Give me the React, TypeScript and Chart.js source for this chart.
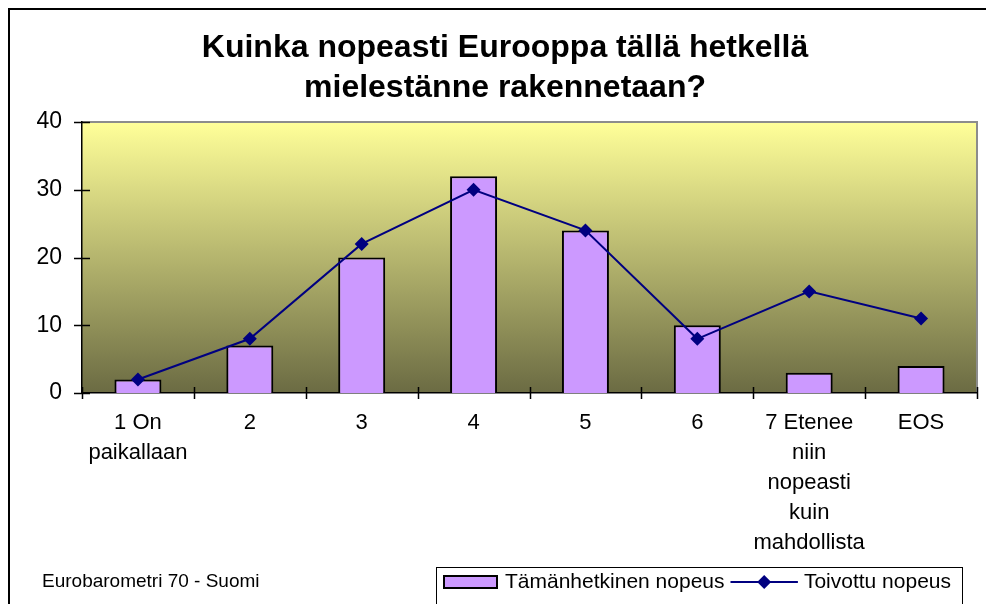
import React, { useEffect, useRef } from "react";
import { Chart, registerables } from "chart.js";
Chart.register(...registerables);

const titleLines = ["Kuinka nopeasti Eurooppa tällä hetkellä", "mielestänne rakennetaan?"];
const categories: (string | string[])[] = [
  ["1 On", "paikallaan"],
  "2",
  "3",
  "4",
  "5",
  "6",
  ["7 Etenee", "niin", "nopeasti", "kuin", "mahdollista"],
  "EOS",
];
const currentSpeed = [2, 7, 20, 32, 24, 10, 3, 4];
const desiredSpeed = [2, 8, 22, 30, 24, 8, 15, 11];
const yTicks = [0, 10, 20, 30, 40];
const seriesNames = ["Tämänhetkinen nopeus", "Toivottu nopeus"];
const footnote = "Eurobarometri 70 - Suomi";

const FONT = "'Liberation Sans', Arial, sans-serif";
const BAR_COLOR = "#CC99FF";
const LINE_COLOR = "#000080";

function diamond(ctx: CanvasRenderingContext2D, x: number, y: number, r: number) {
  ctx.beginPath();
  ctx.moveTo(x, y - r);
  ctx.lineTo(x + r, y);
  ctx.lineTo(x, y + r);
  ctx.lineTo(x - r, y);
  ctx.closePath();
  ctx.fill();
}

const decorPlugin = {
  id: "decor",
  beforeDraw(chart: any) {
    const ctx = chart.ctx as CanvasRenderingContext2D;
    const { left, right, top, bottom } = chart.chartArea;
    ctx.save();
    ctx.fillStyle = "#ffffff";
    ctx.fillRect(0, 0, chart.width, chart.height);
    const g = ctx.createLinearGradient(0, top, 0, bottom);
    g.addColorStop(0, "#FFFF99");
    g.addColorStop(1, "#6B6B43");
    ctx.fillStyle = g;
    ctx.fillRect(left, top, right - left, bottom - top);
    ctx.strokeStyle = "#8c8c8c";
    ctx.lineWidth = 2;
    ctx.beginPath();
    ctx.moveTo(left, top);
    ctx.lineTo(right, top);
    ctx.lineTo(right, bottom);
    ctx.stroke();
    ctx.restore();
  },
  afterDraw(chart: any) {
    const ctx = chart.ctx as CanvasRenderingContext2D;
    const { left, bottom } = chart.chartArea;
    const xs = chart.scales.x;
    const ys = chart.scales.y;
    ctx.save();
    // outer border (right and bottom edges lie outside the visible area)
    ctx.strokeStyle = "#000";
    ctx.lineWidth = 2;
    ctx.strokeRect(1, 1, chart.width + 20, chart.height + 20);

    // crossing tick marks
    ctx.lineWidth = 1.5;
    ctx.beginPath();
    yTicks.forEach((v) => {
      const y = Math.round(ys.getPixelForValue(v)) + 0.5;
      ctx.moveTo(left - 8, y);
      ctx.lineTo(left + 8, y);
    });
    for (let i = 0; i <= categories.length; i++) {
      const x = Math.round(xs.getPixelForValue(i - 0.5)) + 0.5;
      ctx.moveTo(x, bottom - 6);
      ctx.lineTo(x, bottom + 6);
    }
    ctx.stroke();

    // title
    ctx.fillStyle = "#000";
    ctx.font = `bold 32px ${FONT}`;
    ctx.textAlign = "center";
    ctx.textBaseline = "alphabetic";
    ctx.fillText(titleLines[0], 497, 49);
    ctx.fillText(titleLines[1], 497, 89);

    // footnote
    ctx.font = `19px ${FONT}`;
    ctx.textAlign = "left";
    ctx.textBaseline = "middle";
    ctx.fillText(footnote, 34, 574);

    // legend
    const ly = 574;
    ctx.lineWidth = 1;
    ctx.strokeStyle = "#000";
    ctx.strokeRect(428.5, 559.5, 526, 200);
    ctx.fillStyle = BAR_COLOR;
    ctx.fillRect(436, 568, 53, 12);
    ctx.lineWidth = 2;
    ctx.strokeRect(436, 568, 53, 12);
    ctx.font = `21px ${FONT}`;
    ctx.fillStyle = "#000";
    const t1x = 497;
    const w1 = ctx.measureText(seriesNames[0]).width;
    ctx.fillText(seriesNames[0], t1x, ly);
    const w2 = ctx.measureText(seriesNames[1]).width;
    const t2x = 943 - w2;
    ctx.fillText(seriesNames[1], t2x, ly);
    const l0 = t1x + w1 + 6;
    const l1 = t2x - 6;
    ctx.strokeStyle = LINE_COLOR;
    ctx.lineWidth = 2;
    ctx.beginPath();
    ctx.moveTo(l0, ly);
    ctx.lineTo(l1, ly);
    ctx.stroke();
    ctx.fillStyle = LINE_COLOR;
    diamond(ctx, (l0 + l1) / 2, ly, 7);
    ctx.restore();
  },
};

export default function App() {
  const ref = useRef<HTMLCanvasElement>(null);
  useEffect(() => {
    document.documentElement.style.overflow = "hidden";
    const canvas = ref.current!;
    const chart = new Chart(canvas, {
      type: "bar",
      data: {
        labels: categories,
        datasets: [
          {
            type: "line",
            label: seriesNames[1],
            data: desiredSpeed,
            borderColor: LINE_COLOR,
            backgroundColor: LINE_COLOR,
            borderWidth: 2,
            pointStyle: "rectRot",
            pointRadius: 7,
            pointBorderWidth: 0,
            pointBackgroundColor: LINE_COLOR,
            tension: 0,
            order: 0,
          } as any,
          {
            type: "bar",
            label: seriesNames[0],
            data: currentSpeed,
            backgroundColor: BAR_COLOR,
            borderColor: "#000",
            borderWidth: 2,
            categoryPercentage: 1,
            barPercentage: 0.42,
            order: 1,
          },
        ],
      },
      options: {
        responsive: false,
        animation: false,
        devicePixelRatio: 1,
        layout: { padding: { left: 0, top: 114, right: 9, bottom: 0 } },
        plugins: {
          legend: { display: false },
          title: { display: false },
          tooltip: { enabled: false },
        },
        scales: {
          x: {
            offset: true,
            grid: { display: false, drawTicks: false },
            border: { display: true, color: "#000", width: 1.5 },
            ticks: {
              color: "#000",
              font: { family: FONT, size: 22, lineHeight: 30 / 22 },
              padding: 15,
              maxRotation: 0,
              autoSkip: false,
            },
            afterFit: (s: any) => {
              s.height = 211;
            },
          },
          y: {
            min: 0,
            max: 40,
            grid: { display: false, drawTicks: false },
            border: { display: true, color: "#000", width: 1.5 },
            ticks: {
              stepSize: 10,
              color: "#000",
              font: { family: FONT, size: 23 },
              padding: 20,
            },
            afterFit: (s: any) => {
              s.width = 74;
            },
          },
        },
      },
      plugins: [decorPlugin],
    });
    return () => chart.destroy();
  }, []);
  return (
    <div style={{ position: "fixed", left: 8, top: 8, width: 978, height: 596 }}>
      <canvas ref={ref} width={978} height={596} style={{ display: "block" }} />
    </div>
  );
}
